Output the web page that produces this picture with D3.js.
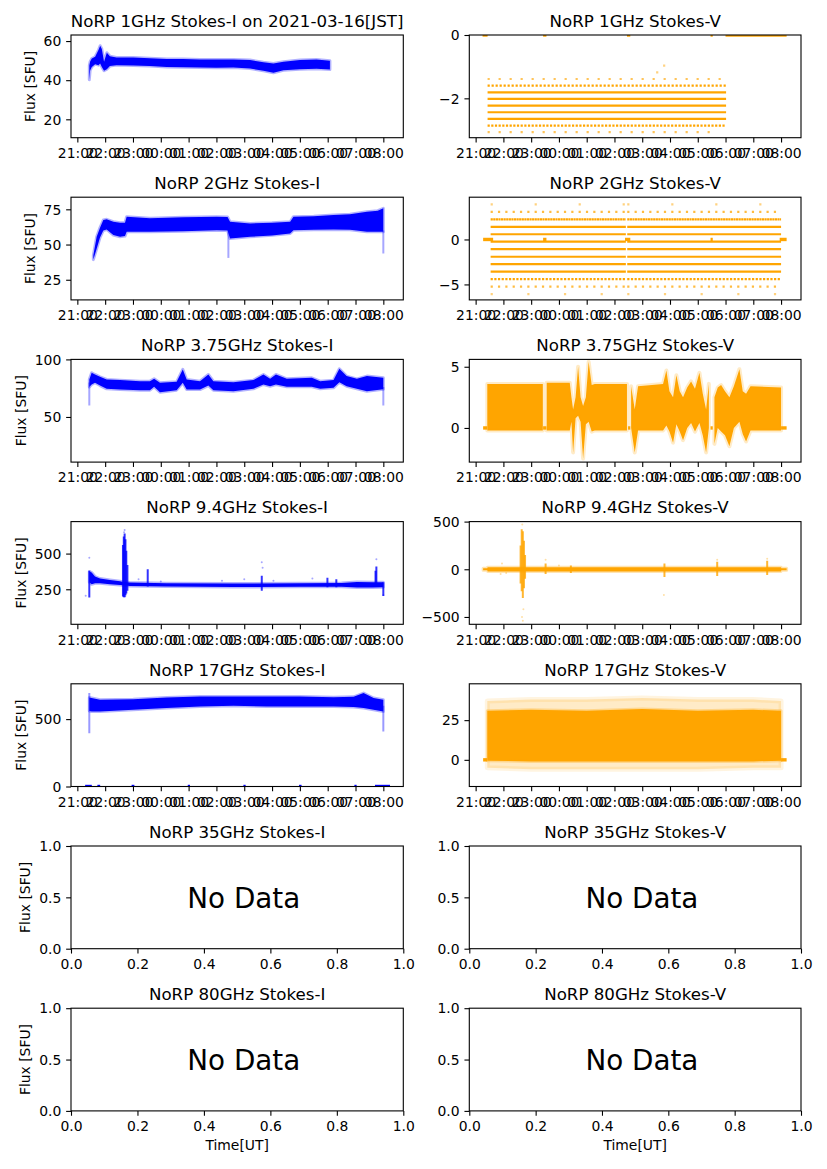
<!DOCTYPE html>
<html><head><meta charset="utf-8">
<script src="https://cdn.jsdelivr.net/npm/d3@7"></script>
<style>
body{margin:0;background:#fff}
svg{display:block}
text{font-family:"DejaVu Sans",sans-serif;fill:#000}
</style>
</head><body>
<svg id="fig" width="827" height="1169"></svg>
<script>
// ---------------- DATA (time t = hours after 21:00 UT) ----------------
const freqs = ["1GHz","2GHz","3.75GHz","9.4GHz","17GHz","35GHz","80GHz"];
const obsDate = "2021-03-16[JST]";
const timeTicks = ["21:00","22:00","23:00","00:00","01:00","02:00","03:00","04:00","05:00","06:00","07:00","08:00"];
const unitTicks = [0,0.2,0.4,0.6,0.8,1.0];
const unitYTicks = [0,0.5,1.0];
const xLimH = [-0.228, 11.718];

// 1 GHz Stokes-I
const i1_ylim = [10.6, 63.1], i1_yticks = [20,40,60];
const i1_t  = [0.43,0.46,0.52,0.64,0.76,0.82,0.88,0.96,1.06,1.17,1.41,2.01,2.6,3.21,3.8,4.41,5.0,5.61,6.21,6.69,7.05,7.41,8.0,8.6,9.08];
const i1_hi = [47.5,49.5,51.1,52.0,55.4,57.6,56.0,49.4,54.0,52.3,51.6,51.6,51.2,50.8,50.8,50.6,50.6,50.6,50.3,49.2,48.5,49.4,50.3,50.6,50.0];
const i1_lo = [40.2,45.0,46.8,48.2,47.7,48.5,46.8,44.8,45.6,47.2,47.7,47.5,47.2,46.8,46.6,46.5,46.4,46.5,46.0,44.8,43.8,45.1,45.6,45.8,45.5];

// 1 GHz Stokes-V (quantised levels)
const v1_ylim = [-3.243, 0.0], v1_yticks = [-2, 0];
const v1_levels  = [-0.97,-1.18,-1.39,-1.60,-1.81,-2.02,-2.23,-2.44,-2.65,-2.86,-3.07];
const v1_density = [0.04, 0.06, 0.2, 0.55, 1, 1, 1, 1, 1, 0.6, 0.2];
const v1_start   = [6.75, 6.5, 0.43,0.43,0.43,0.43,0.43,0.43,0.43,0.43,0.43];
const v1_end     = [7.41, 7.8, 9.02,9.02,9.02,9.02,9.02,9.02,9.02,9.02,8.6];
const v1_zero    = [[0.25,0.43],[2.43,2.55],[5.45,5.57],[8.46,8.54],[9.0,11.2]];

// 2 GHz Stokes-I
const i2_ylim = [10.7, 83.6], i2_yticks = [25,50,75];
const i2_t  = [0.575,0.695,0.815,0.934,1.054,1.294,1.534,1.713,1.773,2.61,3.81,5.01,5.40,5.49,6.21,7.0,7.65,7.77,8.5,9.21,9.8,10.41,10.8,11.0];
const i2_hi = [42.4,55.5,62.0,67.4,67.9,66.2,65.5,65.5,69.8,68.6,69.3,69.8,69.5,66.2,65.0,65.5,66.2,69.8,70.0,71.0,71.5,73.3,74.0,75.7];
const i2_lo = [39.3,47.0,55.0,60.0,60.7,56.7,55.5,56.0,59.0,59.0,59.5,60.2,60.0,54.3,55.5,56.5,57.9,60.2,60.5,60.7,60.5,59.0,59.0,59.0];
const i2_spikes = [[5.43,40.5,60],[11.0,43.6,60]];

// 2 GHz Stokes-V (quantised levels)
const v2_ylim = [-6.72, 4.70], v2_yticks = [-5, 0];
const v2_levels  = [3.90,3.07,2.24,1.41,0.58,-0.25,-1.08,-1.92,-2.75,-3.58,-4.41,-5.24,-6.08];
const v2_density = [0.05,0.3,0.85,1,1,1,1,1,1,1,0.6,0.3,0.06];
const v2_range   = [0.54, 11.0];
const v2_gap     = [5.41, 5.46];
const v2_zero    = [[0.27,0.63],[2.43,2.55],[5.38,5.57],[8.46,8.54],[10.95,11.2]];

// 3.75 GHz Stokes-I
const i3_ylim = [10.8, 100], i3_yticks = [50,100];
const i3_t  = [0.43,0.515,0.635,0.815,1.054,1.534,2.25,2.61,2.76,2.97,3.57,3.79,3.93,4.41,4.71,4.89,5.61,6.33,6.69,6.93,7.14,7.53,8.43,8.73,9.21,9.42,9.68,10.05,10.41,11.0];
const i3_hi = [82.6,88.4,86.9,84.9,82.6,82.0,81.1,81.1,83.1,79.7,80.5,91.3,82.6,81.1,86.9,81.1,80.2,82.0,86.9,83.1,86.9,83.1,84.0,81.1,82.0,91.9,85.5,83.1,85.5,84.0];
const i3_lo = [76.0,78.2,79.7,77.3,74.4,73.8,73.3,73.3,76.2,71.5,73.3,79.7,73.8,73.8,77.3,73.3,72.4,74.4,78.2,76.7,78.2,76.2,76.2,74.4,75.3,80.2,76.7,74.4,72.4,74.0];
const i3_spikes = [[0.43,60,80],[11.0,60,76]];

// 3.75 GHz Stokes-V (null = data gap)
const v3_ylim = [-2.79, 5.6], v3_yticks = [0, 5];
const v3_t  = [0.42,2.42,2.43,2.55,2.56,3.39,3.45,3.51,3.60,3.69,3.78,3.87,3.97,4.07,4.18,4.29,5.45,5.49,5.57,5.60,5.73,5.85,6.75,6.87,6.98,7.11,7.23,7.35,7.47,7.62,7.76,7.90,8.06,8.18,8.30,8.40,8.46,8.54,8.60,8.72,8.84,8.98,9.14,9.30,9.50,9.62,9.74,9.90,11.0];
const v3_hi = [3.6,3.6,null,null,3.7,3.7,2.5,1.5,2.5,5.0,2.5,1.8,2.5,5.4,3.5,3.6,3.6,null,null,3.4,1.5,3.4,3.6,4.7,3.0,2.5,4.3,3.0,2.5,3.3,3.8,3.2,4.5,2.8,1.5,3.6,null,null,2.5,3.3,3.5,3.0,2.5,3.4,4.8,3.0,2.8,3.4,3.3];
const v3_lo = [-0.2,-0.2,null,null,-0.2,-0.2,0.5,-2.0,0.8,1.0,0.5,-2.5,0.3,0.5,-0.3,-0.2,-0.2,null,null,0.0,-2.0,-0.2,-0.2,0.2,-0.3,-1.2,0.3,-0.3,-1.0,0.0,0.4,-0.3,0.4,-0.6,-2.0,0.0,null,null,-1.3,0.0,-0.3,-0.6,-1.5,0.0,0.5,-0.5,-1.1,-0.2,-0.2];
const v3_zero = [[0.27,0.42],[2.43,2.55],[5.49,5.57],[8.46,8.54],[11.0,11.2]];

// 9.4 GHz Stokes-I
const i4_ylim = [4.7, 724], i4_yticks = [250,500];
const i4_t  = [0.43,0.515,0.635,0.815,1.174,1.534,1.65,1.89,3.21,5.61,8.0,9.5,10.05,10.6,11.0];
const i4_hi = [375,367,339,325,315,306,301,297,292,290,292,294,301,300,300];
const i4_lo = [300,285,292,292,285,280,278,273,269,266,268,268,262,262,265];
const i4_spikes = [[0.43,192,380],[1.64,200,560],[1.67,195,620],[1.70,195,640],[1.73,210,600],[1.76,220,520],[1.80,240,420],[2.53,270,390],[6.63,240,345],[8.99,265,330],[9.31,265,320],[10.72,270,380],[10.75,270,410],[11.0,203,300]];
const i4_points = [[0.43,470],[1.70,665],[1.68,650],[1.73,205],[6.63,440],[6.66,400],[10.75,460],[11.0,210],[2.2,320],[3.0,305],[5.2,310],[6.0,320],[8.45,325],[7.05,310],[0.3,205]];

// 9.4 GHz Stokes-V
const v4_ylim = [-577, 500], v4_yticks = [-500,0,500];
const v4_t  = [0.27,0.42,0.43,11.0,11.01,11.2];
const v4_hi = [10,10,22,22,10,10];
const v4_lo = [-10,-10,-22,-22,-10,-10];
const v4_spikes = [[1.62,-150,250],[1.66,-230,420],[1.70,-300,400],[1.74,-200,300],[1.78,-100,150],[2.52,-50,60],[3.43,-40,40],[6.80,-80,60],[8.70,-70,80],[10.5,-60,90]];
const v4_points = [[1.68,470],[1.70,-540],[1.67,-500],[1.72,-420],[6.78,-270],[8.7,100],[10.5,110],[2.52,100],[0.95,60],[0.9,-50],[3.0,40],[1.1,-40]];

// 17 GHz Stokes-I
const i5_ylim = [0, 762], i5_yticks = [0,500];
const i5_t  = [0.43,0.515,0.815,2.01,3.21,4.41,5.61,6.81,8.0,9.21,9.93,10.29,10.65,11.0];
const i5_hi = [660,656,643,648,661,668,668,668,668,663,665,693,656,643];
const i5_lo = [560,557,557,569,582,594,599,594,594,594,590,582,569,557];
const i5_spikes = [[0.43,396,693],[11.0,408,600]];
const i5_zero = [[0.28,0.52],[0.72,0.82],[1.95,2.05],[3.97,4.05],[5.97,6.05],[7.97,8.06],[9.96,10.04],[10.70,11.24]];

// 17 GHz Stokes-V
const v5_ylim = [-16.8, 47.9], v5_yticks = [0,25];
const v5_t   = [0.42,2.0,4.0,6.0,8.0,10.0,11.0];
const v5_hi  = [31,31.5,31,32,31,31.5,31];
const v5_lo  = [-0.5,-1,-1,-1,-1,-1,-0.5];
const v5_hhi = [37,38,38,39,38,38,37];
const v5_hlo = [-5,-6,-6,-6,-6,-5,-5];
const v5_zero = [[0.27,0.42],[11.0,11.2]];

// ---------------- LAYOUT / STYLE ----------------
const W = 827, H = 1169;
const BLUE = "#0000ff", ORANGE = "#ffa500";
const colX = [[71, 403.3], [469.3, 801]];
const rowTop = [35, 197.2, 359.4, 521.6, 683.8, 846, 1008.2];
const axH = 102.7;
const FS = 13.9, TFS = 16.67;
const tick = 4.86;

const base = Date.UTC(2021, 2, 15, 21, 0, 0);
const hToDate = h => new Date(base + h * 3600000);
const tickDates = timeTicks.map(s => {
  const [hh, mm] = s.split(":").map(Number);
  return hToDate((hh >= 21 ? hh - 21 : hh + 3) + mm / 60);
});
const toRows = (t, hi, lo) => t.map((d, k) => ({t: d, hi: hi[k], lo: lo[k]}));

const panels = [
  {row:0,col:0,title:`NoRP ${freqs[0]} Stokes-I on ${obsDate}`,ylim:i1_ylim,yticks:i1_yticks,color:BLUE,
    bands:[{d:toRows(i1_t,i1_hi,i1_lo)}]},
  {row:0,col:1,title:`NoRP ${freqs[0]} Stokes-V`,ylim:v1_ylim,yticks:v1_yticks,color:ORANGE,
    levels:v1_levels.map((v,k)=>({v,dens:v1_density[k],a:v1_start[k],b:v1_end[k]})),zero:v1_zero},
  {row:1,col:0,title:`NoRP ${freqs[1]} Stokes-I`,ylim:i2_ylim,yticks:i2_yticks,color:BLUE,
    bands:[{d:toRows(i2_t,i2_hi,i2_lo)}],spikes:i2_spikes,spikeOp:0.35},
  {row:1,col:1,title:`NoRP ${freqs[1]} Stokes-V`,ylim:v2_ylim,yticks:v2_yticks,color:ORANGE,
    levels:v2_levels.flatMap((v,k)=>[{v,dens:v2_density[k],a:v2_range[0],b:v2_gap[0]},{v,dens:v2_density[k],a:v2_gap[1],b:v2_range[1]}]),zero:v2_zero},
  {row:2,col:0,title:`NoRP ${freqs[2]} Stokes-I`,ylim:i3_ylim,yticks:i3_yticks,color:BLUE,
    bands:[{d:toRows(i3_t,i3_hi,i3_lo)}],spikes:i3_spikes,spikeOp:0.35},
  {row:2,col:1,title:`NoRP ${freqs[2]} Stokes-V`,ylim:v3_ylim,yticks:v3_yticks,color:ORANGE,
    bands:[{d:toRows(v3_t,v3_hi,v3_lo),fringe:4,fop:0.22}],zero:v3_zero},
  {row:3,col:0,title:`NoRP ${freqs[3]} Stokes-I`,ylim:i4_ylim,yticks:i4_yticks,color:BLUE,
    bands:[{d:toRows(i4_t,i4_hi,i4_lo)}],spikes:i4_spikes,points:i4_points,spikeOp:0.8},
  {row:3,col:1,title:`NoRP ${freqs[3]} Stokes-V`,ylim:v4_ylim,yticks:v4_yticks,color:ORANGE,
    bands:[{d:toRows(v4_t,v4_hi,v4_lo)}],spikes:v4_spikes,points:v4_points,spikeOp:0.8},
  {row:4,col:0,title:`NoRP ${freqs[4]} Stokes-I`,ylim:i5_ylim,yticks:i5_yticks,color:BLUE,
    bands:[{d:toRows(i5_t,i5_hi,i5_lo)}],spikes:i5_spikes,zero:i5_zero,spikeOp:0.4},
  {row:4,col:1,title:`NoRP ${freqs[4]} Stokes-V`,ylim:v5_ylim,yticks:v5_yticks,color:ORANGE,
    bands:[{d:toRows(v5_t,v5_hhi,v5_hlo),op:0.22,fringe:5,fop:0.12},{d:toRows(v5_t,v5_hi,v5_lo)}],zero:v5_zero},
  {row:5,col:0,title:`NoRP ${freqs[5]} Stokes-I`,noData:true},
  {row:5,col:1,title:`NoRP ${freqs[5]} Stokes-V`,noData:true},
  {row:6,col:0,title:`NoRP ${freqs[6]} Stokes-I`,noData:true},
  {row:6,col:1,title:`NoRP ${freqs[6]} Stokes-V`,noData:true}
];

function styleAxis(sel){
  sel.select(".domain").remove();
  sel.selectAll(".tick line").attr("stroke","#000").attr("stroke-width",1.1);
  sel.selectAll(".tick text").attr("font-size",FS).attr("font-family","DejaVu Sans").attr("fill","#000");
}

const svg = d3.select("#fig");
svg.append("rect").attr("width",W).attr("height",H).attr("fill","#fff");

panels.forEach((p,i)=>{
  const [x0,x1] = colX[p.col];
  const y0 = rowTop[p.row], y1 = y0 + axH;
  const g = svg.append("g");
  const x = p.noData ? d3.scaleLinear().domain([0,1]).range([x0,x1])
                     : d3.scaleUtc().domain(xLimH.map(hToDate)).range([x0,x1]);
  const y = d3.scaleLinear().domain(p.noData ? [0,1] : p.ylim).range([y1,y0]);
  const X = h => x(hToDate(h));
  const cid = "clip"+i;
  svg.append("clipPath").attr("id",cid).append("rect")
    .attr("x",x0).attr("y",y0).attr("width",x1-x0).attr("height",y1-y0);
  const pg = g.append("g").attr("clip-path",`url(#${cid})`);

  if(!p.noData){
    const c = p.color;
    (p.bands||[]).forEach(b=>{
      const area = d3.area().defined(d=>d.hi!=null)
        .x(d=>X(d.t)).y0(d=>y(d.lo)).y1(d=>y(d.hi)).curve(d3.curveLinear);
      pg.append("path").datum(b.d).attr("d",area)
        .attr("fill",c).attr("fill-opacity",b.op||1)
        .attr("stroke",c).attr("stroke-opacity",b.fop||0.3).attr("stroke-width",b.fringe||3)
        .attr("stroke-linejoin","round");
    });
    (p.levels||[]).forEach(l=>{
      const ln = pg.append("line").attr("x1",X(l.a)).attr("x2",X(l.b))
        .attr("y1",y(l.v)).attr("y2",y(l.v))
        .attr("stroke",c).attr("stroke-width",2.2);
      if(l.dens<1){
        ln.attr("stroke-dasharray",`2.2 ${(2.2*(1/l.dens-1)).toFixed(2)}`)
          .attr("stroke-opacity",Math.min(1,0.45+l.dens));
      }
    });
    (p.spikes||[]).forEach(s=>{
      pg.append("line").attr("x1",X(s[0])).attr("x2",X(s[0]))
        .attr("y1",y(s[1])).attr("y2",y(s[2]))
        .attr("stroke",c).attr("stroke-width",2).attr("stroke-opacity",p.spikeOp||0.8);
    });
    (p.points||[]).forEach(s=>{
      pg.append("circle").attr("cx",X(s[0])).attr("cy",y(s[1])).attr("r",1)
        .attr("fill",c).attr("fill-opacity",0.35);
    });
    (p.zero||[]).forEach(z=>{
      pg.append("rect").attr("x",X(z[0])).attr("width",X(z[1])-X(z[0]))
        .attr("y",y(0)-1.7).attr("height",3.4).attr("fill",c);
    });
  } else {
    g.append("text").attr("x",x(0.35)).attr("y",y(0.5)).attr("dy","0.39em")
      .attr("font-size",27.8).text("No Data");
  }

  // axes
  const xa = p.noData
    ? d3.axisBottom(x).tickValues(unitTicks).tickFormat(d3.format(".1f"))
    : d3.axisBottom(x).tickValues(tickDates).tickFormat((d,k)=>timeTicks[k]);
  const xg = g.append("g").attr("transform",`translate(0,${y1})`)
    .call(xa.tickSize(tick).tickPadding(tick)).call(styleAxis);
  xg.selectAll(".tick text").attr("dy","0.76em");
  const ya = p.noData
    ? d3.axisLeft(y).tickValues(unitYTicks).tickFormat(d3.format(".1f"))
    : d3.axisLeft(y).tickValues(p.yticks).tickFormat(d3.format("d"));
  const yg = g.append("g").attr("transform",`translate(${x0},0)`)
    .call(ya.tickSize(tick).tickPadding(tick)).call(styleAxis);
  yg.selectAll(".tick text").attr("dy","0.34em");

  g.append("rect").attr("x",x0).attr("y",y0).attr("width",x1-x0).attr("height",y1-y0)
    .attr("fill","none").attr("stroke","#000").attr("stroke-width",1.1);

  g.append("text").attr("x",(x0+x1)/2).attr("y",y0-8.3).attr("text-anchor","middle")
    .attr("font-size",TFS).text(p.title);

  if(p.col===0){
    let minX = Infinity;
    yg.selectAll(".tick text").each(function(){
      const w = this.getComputedTextLength();
      minX = Math.min(minX, x0 - 2*tick - w);
    });
    const bx = minX - 5.56 - 3.3;
    g.append("text").attr("transform",`translate(${bx},${(y0+y1)/2}) rotate(-90)`)
      .attr("text-anchor","middle").attr("font-size",FS).text("Flux [SFU]");
  }
  if(p.row===6){
    g.append("text").attr("x",(x0+x1)/2).attr("y",y1+39.5).attr("text-anchor","middle")
      .attr("font-size",FS).text("Time[UT]");
  }
});
</script>
</body></html>
